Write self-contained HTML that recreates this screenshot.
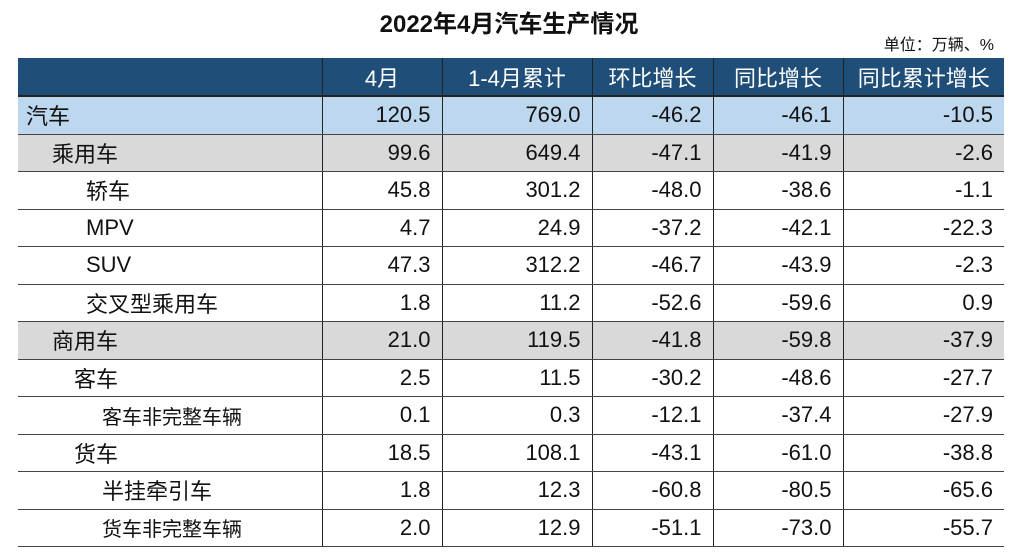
<!DOCTYPE html>
<html><head><meta charset="utf-8"><style>
body{margin:0;width:1018px;height:554px;background:#fff;position:relative;overflow:hidden;font-family:"Liberation Sans","Noto Sans CJK SC",sans-serif;}
#title{position:absolute;left:0;width:1018px;top:4px;text-align:center;font-size:24px;font-weight:bold;color:#111;}
#unit{position:absolute;right:24px;top:31px;font-size:16px;color:#111;}
table{position:absolute;left:18px;top:58px;border-collapse:collapse;table-layout:fixed;}
td,th{height:36.5px;padding:0 11px 0 0;font-size:22px;color:#111;text-align:right;border-bottom:1.5px solid #444;font-weight:normal;white-space:nowrap;}
th{background:#1f4e79;color:#fff;text-align:center;padding:0;height:37px;border-bottom:2px solid #222;}
td.n,th.n{border-left:1.5px solid #222;}
td.l{text-align:left;padding-left:8px;}
tr.car td{background:#bdd7ee;}
tr.grp td{background:#d9d9d9;}
</style></head><body>
<div id="title">2022年4月汽车生产情况</div>
<div id="unit">单位：万辆、%</div>
<table>
<colgroup><col style="width:304px"><col style="width:120px"><col style="width:150px"><col style="width:121px"><col style="width:130px"><col style="width:161px"></colgroup>
<tr><th></th><th class="n">4月</th><th class="n">1-4月累计</th><th class="n">环比增长</th><th class="n">同比增长</th><th class="n">同比累计增长</th></tr>
<tr class="car"><td class="l">汽车</td><td class="n">120.5</td><td class="n">769.0</td><td class="n">-46.2</td><td class="n">-46.1</td><td class="n">-10.5</td></tr>
<tr class="grp"><td class="l" style="padding-left:34px">乘用车</td><td class="n">99.6</td><td class="n">649.4</td><td class="n">-47.1</td><td class="n">-41.9</td><td class="n">-2.6</td></tr>
<tr><td class="l" style="padding-left:68px">轿车</td><td class="n">45.8</td><td class="n">301.2</td><td class="n">-48.0</td><td class="n">-38.6</td><td class="n">-1.1</td></tr>
<tr><td class="l" style="padding-left:68px">MPV</td><td class="n">4.7</td><td class="n">24.9</td><td class="n">-37.2</td><td class="n">-42.1</td><td class="n">-22.3</td></tr>
<tr><td class="l" style="padding-left:68px">SUV</td><td class="n">47.3</td><td class="n">312.2</td><td class="n">-46.7</td><td class="n">-43.9</td><td class="n">-2.3</td></tr>
<tr><td class="l" style="padding-left:68px">交叉型乘用车</td><td class="n">1.8</td><td class="n">11.2</td><td class="n">-52.6</td><td class="n">-59.6</td><td class="n">0.9</td></tr>
<tr class="grp"><td class="l" style="padding-left:34px">商用车</td><td class="n">21.0</td><td class="n">119.5</td><td class="n">-41.8</td><td class="n">-59.8</td><td class="n">-37.9</td></tr>
<tr><td class="l" style="padding-left:56px">客车</td><td class="n">2.5</td><td class="n">11.5</td><td class="n">-30.2</td><td class="n">-48.6</td><td class="n">-27.7</td></tr>
<tr><td class="l" style="padding-left:84px;font-size:20px">客车非完整车辆</td><td class="n">0.1</td><td class="n">0.3</td><td class="n">-12.1</td><td class="n">-37.4</td><td class="n">-27.9</td></tr>
<tr><td class="l" style="padding-left:56px">货车</td><td class="n">18.5</td><td class="n">108.1</td><td class="n">-43.1</td><td class="n">-61.0</td><td class="n">-38.8</td></tr>
<tr><td class="l" style="padding-left:84px">半挂牵引车</td><td class="n">1.8</td><td class="n">12.3</td><td class="n">-60.8</td><td class="n">-80.5</td><td class="n">-65.6</td></tr>
<tr><td class="l" style="padding-left:84px;font-size:20px">货车非完整车辆</td><td class="n">2.0</td><td class="n">12.9</td><td class="n">-51.1</td><td class="n">-73.0</td><td class="n">-55.7</td></tr>
</table>
</body></html>
